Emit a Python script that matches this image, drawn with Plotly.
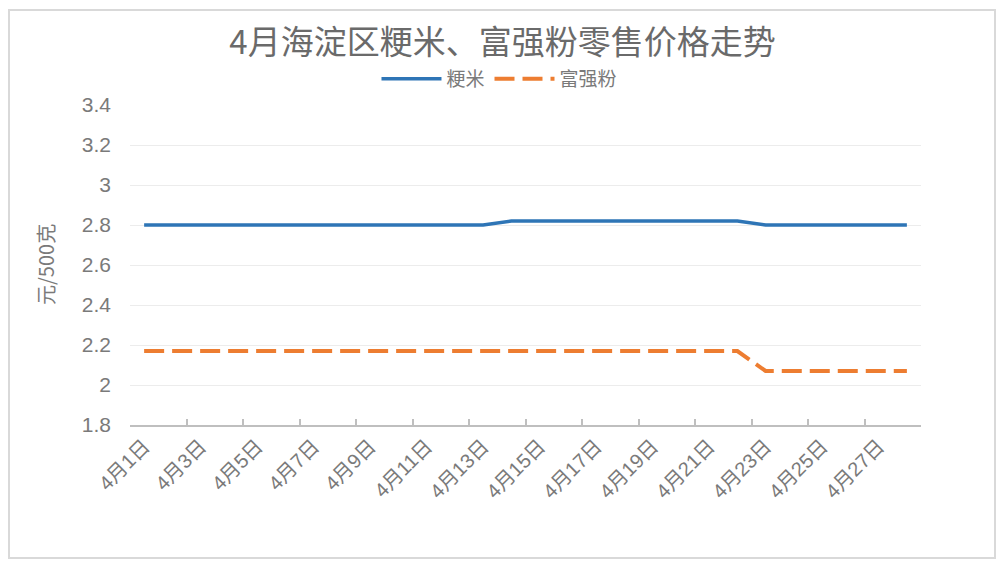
import plotly.graph_objects as go

days = ["4月1日", "4月2日", "4月3日", "4月4日", "4月5日", "4月6日", "4月7日",
        "4月8日", "4月9日", "4月10日", "4月11日", "4月12日", "4月13日", "4月14日",
        "4月15日", "4月16日", "4月17日", "4月18日", "4月19日", "4月20日", "4月21日",
        "4月22日", "4月23日", "4月24日", "4月25日", "4月26日", "4月27日", "4月28日"]

rice = [2.80, 2.80, 2.80, 2.80, 2.80, 2.80, 2.80, 2.80, 2.80, 2.80, 2.80, 2.80, 2.80,
        2.82, 2.82, 2.82, 2.82, 2.82, 2.82, 2.82, 2.82, 2.82,
        2.80, 2.80, 2.80, 2.80, 2.80, 2.80]

flour = [2.17, 2.17, 2.17, 2.17, 2.17, 2.17, 2.17, 2.17, 2.17, 2.17, 2.17,
         2.17, 2.17, 2.17, 2.17, 2.17, 2.17, 2.17, 2.17, 2.17, 2.17, 2.17,
         2.07, 2.07, 2.07, 2.07, 2.07, 2.07]

y_ticks = [1.8, 2, 2.2, 2.4, 2.6, 2.8, 3, 3.2, 3.4]
y_ticktext = ["1.8", "2", "2.2", "2.4", "2.6", "2.8", "3", "3.2", "3.4"]

FONT = "Liberation Sans, Noto Sans CJK SC, sans-serif"
GREY = "#7a7a7a"

fig = go.Figure()
fig.add_trace(go.Scatter(x=days, y=rice, mode="lines", name="粳米",
                         line=dict(color="#2E75B6", width=3.5)))
fig.add_trace(go.Scatter(x=days, y=flour, mode="lines", name="富强粉",
                         line=dict(color="#ED7D31", width=4, dash="20px,8px")))

W, H = 1005, 567
L, R, T, B = 130, 921, 105, 425

fig.update_layout(
    width=W, height=H,
    margin=dict(l=L, r=W - R, t=T, b=H - B, autoexpand=False),
    paper_bgcolor="white", plot_bgcolor="white",
    font=dict(family=FONT, color=GREY),
    title=dict(text="4月海淀区粳米、富强粉零售价格走势",
               x=0.5, xref="container", xanchor="center",
               y=1 - 42 / H, yref="container", yanchor="middle",
               font=dict(size=33, color="#6a6a6a", family="Noto Sans CJK SC")),
    legend=dict(orientation="h", x=0.497, xanchor="center",
                xref="container", yref="container",
                y=1 - 79 / H, yanchor="middle",
                font=dict(size=19, color=GREY, family="Noto Sans CJK SC"),
                itemwidth=60, tracegroupgap=0),
    showlegend=True,
)

fig.update_xaxes(type="category", dtick=2, tickson="boundaries",
                 ticks="inside", ticklen=6, tickcolor="#bfbfbf", tickwidth=1.5,
                 showline=True, linecolor="#bfbfbf", linewidth=1.5,
                 showgrid=False, tickangle=-45,
                 tickfont=dict(size=20, color=GREY, family=FONT),
                 range=[-0.5, 27.5], fixedrange=True)

fig.update_yaxes(range=[1.8, 3.4], tickvals=y_ticks, ticktext=y_ticktext,
                 showgrid=True, gridcolor="#ececec", gridwidth=1,
                 zeroline=False, showline=False, ticks="",
                 ticklabelstandoff=18, fixedrange=True,
                 tickfont=dict(size=21, color=GREY, family=FONT))

fig.add_annotation(text="元/500克", textangle=-90, xref="paper", yref="paper",
                   x=(45 - L) / (R - L), y=0.5, xanchor="center", yanchor="middle",
                   showarrow=False,
                   font=dict(size=20, color=GREY, family="Noto Sans CJK SC"))

fig.add_shape(type="rect", xref="paper", yref="paper",
              x0=(9 - L) / (R - L), x1=(995 - L) / (R - L),
              y0=(B - 558) / (B - T), y1=(B - 10) / (B - T),
              line=dict(color="#d9d9d9", width=2), layer="below")

fig.write_html("out.html", config={"displayModeBar": False},
               post_script="document.body.style.margin='0';")
